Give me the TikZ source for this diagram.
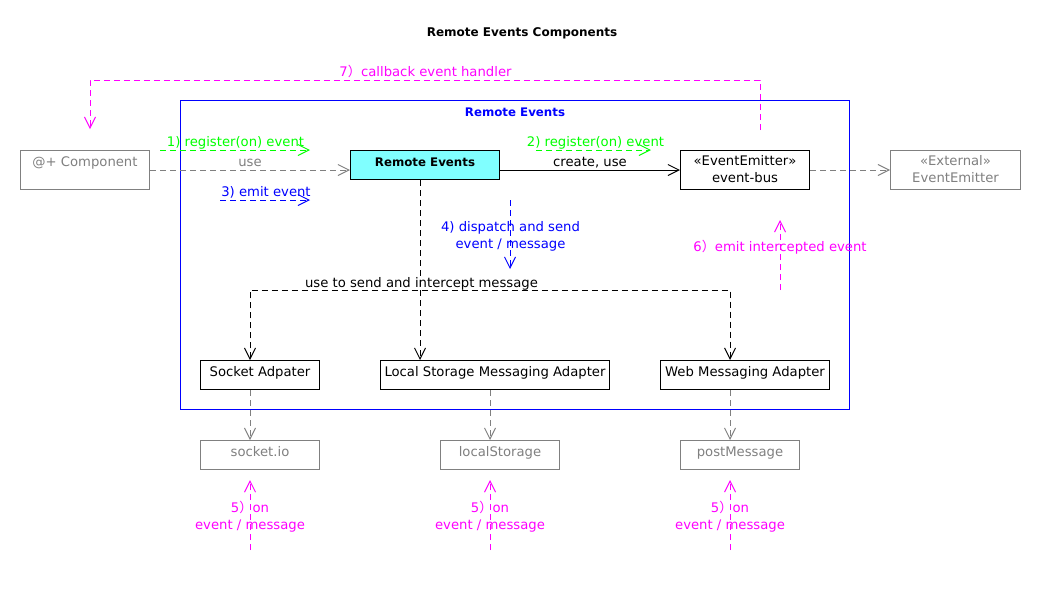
\documentclass[tikz,border=0pt]{standalone}
\usepackage{fontspec}
\setmainfont{DejaVu Sans}
\newfontfamily\cjk{Noto Sans CJK SC}
\usetikzlibrary{arrows.meta,calc}
\definecolor{umlgray}{HTML}{808080}
\definecolor{umlgreen}{HTML}{00FF00}
\definecolor{umlblue}{HTML}{0000FF}
\definecolor{umlmag}{HTML}{FF00FF}
\definecolor{umlcyan}{HTML}{80FFFF}
\newcommand{\fwp}{{\cjk ）}}
\begin{document}
\begin{tikzpicture}[x=1pt,y=-1pt,
  font=\fontsize{13.2}{17}\selectfont,
  box/.style={draw, line width=1pt, inner sep=0pt, anchor=north west},
  graybox/.style={box, draw=umlgray},
  txt/.style={inner sep=0pt, anchor=base, align=center},
  bold/.style={font=\fontsize{11.8}{14}\selectfont\bfseries},
  dsh/.style={dash pattern=on 6pt off 4pt},
  tip/.style={-{Straight Barb[length=11pt,width=11pt]}},
  conn/.style={line width=1pt}]
\useasboundingbox[fill=white] (0,0) rectangle (1040,590);

% title
\node[txt, font=\fontsize{12}{14}\selectfont\bfseries] (title) at (522,36.4) {Remote Events Components};

% outer package
\node[box, draw=umlblue, minimum width=669pt, minimum height=309pt] (pkg) at (180,100) {};
\node[txt, bold, text=umlblue] (pkgt) at ($(pkg.north)+(0,16.3)$) {Remote Events};

% boxes
\node[graybox, minimum width=129pt, minimum height=39pt] (comp) at (20,150) {};
\node[txt, text=umlgray] (compt) at ($(comp.north)+(0,16.5)$) {@+ Component};

\node[box, fill=umlcyan, minimum width=149pt, minimum height=29pt] (re) at (350,150) {};
\node[txt, bold] (ret) at ($(re.north)+(0,16.3)$) {Remote Events};

\node[box, minimum width=129pt, minimum height=39pt] (bus) at (680,150) {};
\node[txt, anchor=north] (bust) at ($(bus.north)+(0,5.6)$) {«EventEmitter»\\event-bus};

\node[graybox, minimum width=130pt, minimum height=39pt] (ext) at (890,150) {};
\node[txt, anchor=north, text=umlgray] (extt) at ($(ext.north)+(0,5.6)$) {«External»\\EventEmitter};

\node[box, minimum width=119pt, minimum height=29pt] (sa) at (200,360) {};
\node[txt] (sat) at ($(sa.north)+(0,16.5)$) {Socket Adpater};
\node[box, minimum width=229pt, minimum height=29pt] (lsa) at (380,360) {};
\node[txt] (lsat) at ($(lsa.north)+(0,16.5)$) {Local Storage Messaging Adapter};
\node[box, minimum width=169pt, minimum height=29pt] (wma) at (660,360) {};
\node[txt] (wmat) at ($(wma.north)+(0,16.5)$) {Web Messaging Adapter};

\node[graybox, minimum width=119pt, minimum height=29pt] (sio) at (200,440) {};
\node[txt, text=umlgray] (siot) at ($(sio.north)+(0,16.5)$) {socket.io};
\node[graybox, minimum width=119pt, minimum height=29pt] (ls) at (440,440) {};
\node[txt, text=umlgray] (lst) at ($(ls.north)+(0,16.5)$) {localStorage};
\node[graybox, minimum width=119pt, minimum height=29pt] (pm) at (680,440) {};
\node[txt, text=umlgray] (pmt) at ($(pm.north)+(0,16.5)$) {postMessage};

% helper coordinates
\coordinate (x250) at (250,0);
\coordinate (x420) at (420,0);
\coordinate (x490) at (490,0);
\coordinate (x730) at (730,0);
\coordinate (hl) at (250,290);
\coordinate (hr) at (730,290);

% main connectors
\draw[conn, umlgray, dsh, tip] (comp.east |- 0,170) -- (re.west |- 0,170);
\node[txt, text=umlgray] (uset) at (250,166) {use};
\draw[conn, tip] (re.east |- 0,170) -- (bus.west |- 0,170);
\node[txt] (cut) at (590,166) {create, use};
\draw[conn, umlgray, dsh, tip] (bus.east |- 0,170) -- (ext.west |- 0,170);

\draw[conn, dsh, tip] (re.south -| x420) -- (lsa.north -| x420);
\draw[conn, dsh, {Straight Barb[length=11pt,width=11pt]}-{Straight Barb[length=11pt,width=11pt]}]
  (sa.north -| hl) -- (hl) -- (hr) -- (wma.north -| hr);
\node[txt] (uset2) at (421.5,287) {use to send and intercept message};

\draw[conn, umlgray, dsh, tip] (sa.south -| x250) -- (sio.north -| x250);
\draw[conn, umlgray, dsh, tip] (lsa.south -| x490) -- (ls.north -| x490);
\draw[conn, umlgray, dsh, tip] (wma.south -| x730) -- (pm.north -| x730);

% step 1, 2, 3
\coordinate (g1a) at (160,150); \coordinate (g1b) at (310,150);
\draw[conn, umlgreen, dsh, tip] (g1a) -- (g1b);
\node[txt, text=umlgreen] (g1t) at (235.5,146) {1) register(on) event};
\coordinate (g2a) at (536,150); \coordinate (g2b) at (651,150);
\draw[conn, umlgreen, dsh, tip] (g2a) -- (g2b);
\node[txt, text=umlgreen] (g2t) at (595.5,146) {2) register(on) event};
\coordinate (b3a) at (220,200); \coordinate (b3b) at (310,200);
\draw[conn, umlblue, dsh, tip] (b3a) -- (b3b);
\node[txt, text=umlblue] (b3t) at (266,196) {3) emit event};

% step 4
\coordinate (b4a) at (510,200); \coordinate (b4b) at (510,269);
\draw[conn, umlblue, dsh, tip] (b4a) -- (b4b);
\node[txt, text=umlblue, anchor=north] (b4t) at (510.5,221) {4) dispatch and send\\event / message};

% step 6
\coordinate (m6a) at (780,290); \coordinate (m6b) at (780,220);
\draw[conn, umlmag, dsh, tip] (m6a) -- (m6b);
\node[txt, text=umlmag] (m6t) at (780,251) {6\fwp emit intercepted event};

% step 7
\coordinate (m7a) at (760,130); \coordinate (m7b) at (90,129);
\draw[conn, umlmag, dsh, tip] (m7a) -- (760,80) -- (90,80) -- (m7b);
\node[txt, text=umlmag] (m7t) at (425.5,76.5) {7\fwp callback event handler};

% step 5
\foreach \xx/\nm in {250/a,490/b,730/c}{
  \coordinate (m5\nm s) at (\xx,550);
  \coordinate (m5\nm e) at (\xx,480);
  \draw[conn, umlmag, dsh, tip] (m5\nm s) -- (m5\nm e);
  \node[txt, text=umlmag, anchor=north] (m5\nm t) at (\xx,501) {5\fwp on\\event / message};
}
\end{tikzpicture}
\end{document}
